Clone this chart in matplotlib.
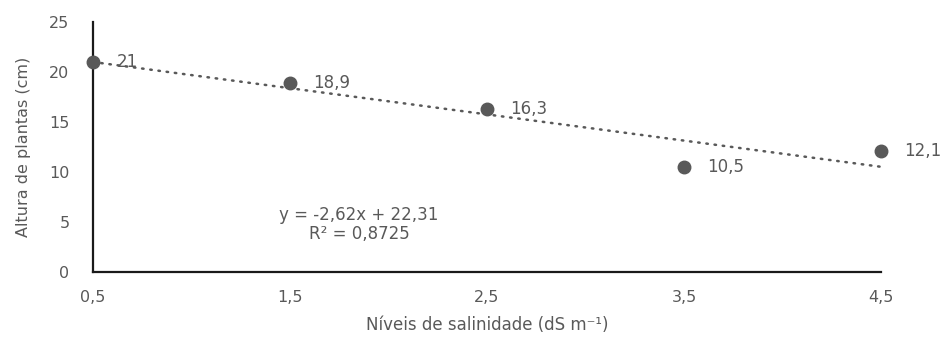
import numpy as np
import matplotlib
matplotlib.use("Agg")
import matplotlib.pyplot as plt

plt.rcParams['font.family'] = ['DejaVu Sans']

x_vals = [0.5, 1.5, 2.5, 3.5, 4.5]
y_vals = [21, 18.9, 16.3, 10.5, 12.1]
x_ticks = [0.5, 1.5, 2.5, 3.5, 4.5]
y_ticks = [0, 5, 10, 15, 20, 25]

def fmt(v):
    s = f"{v:g}"
    return s.replace('.', ',')

gray = '#595959'
fig = plt.figure(figsize=(9.47, 3.38), dpi=100)
ax = fig.add_axes([93/947, 1-272/338, (881-93)/947, (272-22)/338])

slope, intercept = np.polyfit(x_vals, y_vals, 1)
xs = np.array([x_ticks[0], x_ticks[-1]])
ax.plot(xs, slope*xs + intercept, color=gray, lw=1.8,
        linestyle=(0, (0.6, 2.7)), dash_capstyle='round', zorder=2)

ax.plot(x_vals, y_vals, 'o', color=gray, markersize=9, clip_on=False, zorder=3)
for xv, yv in zip(x_vals, y_vals):
    ax.annotate(fmt(yv), (xv, yv), xytext=(17, 0), textcoords='offset points',
                va='center', ha='left', fontsize=12, color=gray, annotation_clip=False)

xa, ya = np.array(x_vals), np.array(y_vals)
r2 = 1 - np.sum((ya - (slope*xa + intercept))**2) / np.sum((ya - ya.mean())**2)
eq = f"y = {slope:.2f}x + {intercept:.2f}".replace('.', ',')
r2s = f"R² = {r2:.4f}".replace('.', ',')
ax.text(1.85, 5.7, eq, ha='center', va='center', fontsize=12, color=gray)
ax.text(1.85, 3.8, r2s, ha='center', va='center', fontsize=12, color=gray)

ax.set_xlim(x_ticks[0], x_ticks[-1])
ax.set_ylim(0, 25)
ax.set_xticks(x_ticks)
ax.set_xticklabels([fmt(v) for v in x_ticks])
ax.set_yticks(y_ticks)
ax.set_yticklabels([fmt(v) for v in y_ticks])
ax.tick_params(length=0, labelsize=11.5, labelcolor=gray)
ax.tick_params(axis='x', pad=13)
ax.tick_params(axis='y', pad=17)
for s in ['top', 'right']:
    ax.spines[s].set_visible(False)
for s in ['left', 'bottom']:
    ax.spines[s].set_color('#1a1a1a')
    ax.spines[s].set_linewidth(1.6)

ax.set_xlabel("Níveis de salinidade (dS m⁻¹)", fontsize=12, color=gray, labelpad=8)
ax.set_ylabel("Altura de plantas (cm)", fontsize=11.5, color=gray, labelpad=13)

fig.savefig("out.png", dpi=100)
